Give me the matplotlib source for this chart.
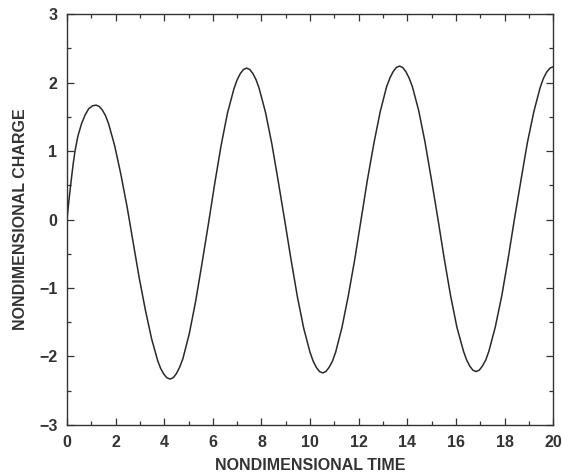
import matplotlib
matplotlib.use("Agg")
import matplotlib.pyplot as plt
from matplotlib.ticker import MultipleLocator

# Values
time = [0.00, 0.08, 0.15, 0.25, 0.33, 0.45, 0.60, 0.75, 0.90, 1.05,
        1.20, 1.33, 1.45, 1.58, 1.71, 1.96, 2.21, 2.47, 2.72, 2.97, 3.23, 3.48, 3.73, 3.86, 3.99, 4.11,
        4.24, 4.37, 4.50, 4.63, 4.77, 5.03, 5.29, 5.55, 5.82, 6.08, 6.34, 6.60, 6.87, 7.00, 7.13, 7.26,
        7.39, 7.52, 7.65, 7.78, 7.91, 8.17, 8.43, 8.69, 8.96, 9.22, 9.48, 9.74, 10.00, 10.13, 10.26, 10.39,
        10.52, 10.65, 10.78, 10.92, 11.05, 11.31, 11.57, 11.84, 12.10, 12.36, 12.63, 12.89, 13.15, 13.29, 13.42, 13.55,
        13.68, 13.81, 13.94, 14.07, 14.21, 14.47, 14.73, 14.99, 15.26, 15.52, 15.78, 16.04, 16.31, 16.44, 16.57, 16.70,
        16.83, 16.96, 17.09, 17.23, 17.36, 17.62, 17.89, 18.15, 18.41, 18.68, 18.94, 19.21, 19.47, 19.60, 19.73, 19.87,
        20.00]
charge = [0.00, 0.28, 0.50, 0.80, 1.00, 1.22, 1.40, 1.53, 1.62, 1.66,
          1.67, 1.65, 1.60, 1.52, 1.40, 1.08, 0.67, 0.19, -0.33, -0.85, -1.33, -1.74, -2.06, -2.18, -2.26, -2.31,
          -2.33, -2.31, -2.25, -2.16, -2.03, -1.67, -1.20, -0.65, -0.06, 0.53, 1.08, 1.55, 1.91, 2.04, 2.13, 2.19,
          2.21, 2.19, 2.13, 2.04, 1.91, 1.56, 1.10, 0.56, -0.02, -0.59, -1.13, -1.59, -1.94, -2.07, -2.16, -2.22,
          -2.24, -2.22, -2.16, -2.07, -1.94, -1.58, -1.12, -0.58, 0.00, 0.58, 1.12, 1.58, 1.94, 2.07, 2.16, 2.22,
          2.24, 2.22, 2.16, 2.07, 1.94, 1.59, 1.13, 0.59, 0.01, -0.57, -1.11, -1.57, -1.92, -2.05, -2.14, -2.20,
          -2.22, -2.20, -2.14, -2.05, -1.92, -1.57, -1.11, -0.57, 0.01, 0.58, 1.12, 1.58, 1.93, 2.06, 2.15, 2.21,
          2.23]

x_ticks = [0, 2, 4, 6, 8, 10, 12, 14, 16, 18, 20]
y_ticks = [-3, -2, -1, 0, 1, 2, 3]
y_tick_labels = ["\u22123", "\u22122", "\u22121", "0", "1", "2", "3"]

plt.rcParams['font.family'] = ['Liberation Sans', 'DejaVu Sans']

fig = plt.figure(figsize=(5.62, 4.74), dpi=100)
ax = fig.add_axes([0.1192, 0.1034, 0.865, 0.867])

ax.plot(time, charge, color='#2a2a2a', linewidth=1.1)

ax.set_xlim(0, 20)
ax.set_ylim(-3, 3)
ax.set_xticks(x_ticks)
ax.set_yticks(y_ticks)
ax.set_yticklabels(y_tick_labels)
ax.xaxis.set_minor_locator(MultipleLocator(1))
ax.yaxis.set_minor_locator(MultipleLocator(0.5))

ax.tick_params(which='both', direction='in', top=True, right=True,
               color='#333333', width=0.9)
ax.tick_params(which='major', length=5, labelsize=11.5, pad=7, labelcolor='#333333')
ax.tick_params(which='minor', length=3)
for lab in ax.get_xticklabels() + ax.get_yticklabels():
    lab.set_fontweight('bold')
for s in ax.spines.values():
    s.set_linewidth(1.0)
    s.set_color('#333333')

ax.set_xlabel('NONDIMENSIONAL TIME', fontsize=11.5, fontweight='bold',
              color='#333333', labelpad=6)
ax.set_ylabel('NONDIMENSIONAL CHARGE', fontsize=11.5, fontweight='bold',
              color='#333333', labelpad=8)

fig.savefig('out.png', dpi=100, facecolor='white')
